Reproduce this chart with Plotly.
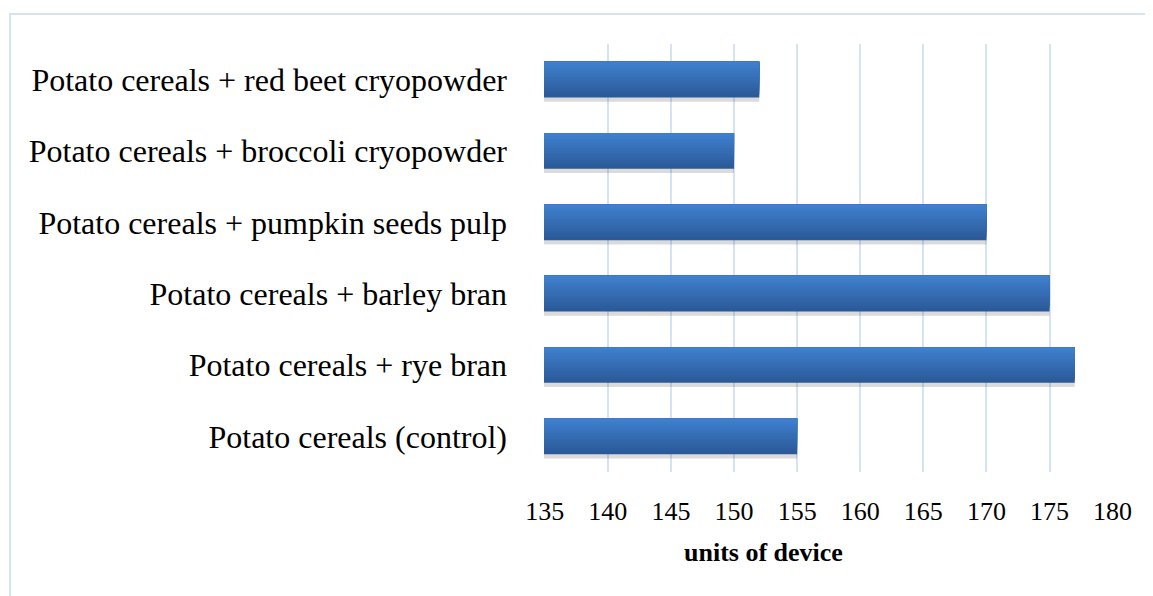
import plotly.graph_objects as go

categories = [
    "Potato cereals (control)",
    "Potato cereals + rye bran",
    "Potato cereals + barley bran",
    "Potato cereals + pumpkin seeds pulp",
    "Potato cereals + broccoli cryopowder",
    "Potato cereals + red beet cryopowder",
]
values = [155, 177, 175, 170, 150, 152]
x_ticks = [135, 140, 145, 150, 155, 160, 165, 170, 175, 180]
x_title = "units of device"

FONT = "Liberation Serif"

fig = go.Figure()

# soft shadow under bars
fig.add_trace(go.Bar(
    y=categories, x=values, orientation="h",
    width=0.5, offset=-0.31,
    marker=dict(color="rgba(0,0,0,0.14)", line=dict(width=0)),
    hoverinfo="skip", showlegend=False,
))

# vertical gradient: stacked, overlapping bands (dark bottom -> light top)
n_bands = 12
c_bot = (0x2B, 0x5A, 0x98)
c_top = (0x3F, 0x7F, 0xCE)
step = 0.5 / n_bands
for i in range(n_bands):
    t = i / (n_bands - 1)
    col = tuple(round(c_bot[k] + (c_top[k] - c_bot[k]) * t) for k in range(3))
    fig.add_trace(go.Bar(
        y=categories, x=values, orientation="h",
        width=0.5 - i * step, offset=-0.25 + i * step,
        marker=dict(color="rgb(%d,%d,%d)" % col, line=dict(width=0)),
        hoverinfo="skip", showlegend=False,
    ))

fig.update_layout(
    width=1145, height=588,
    margin=dict(l=536, r=40, t=36, b=124),
    plot_bgcolor="white", paper_bgcolor="white",
    barmode="overlay",
    font=dict(family=FONT, color="black"),
    xaxis=dict(
        range=[134.94, 180.03], tickvals=x_ticks, ticktext=[str(v) for v in x_ticks],
        showgrid=True, gridcolor="#D6E3F3", gridwidth=2,
        zeroline=False, showline=False, ticks="",
        tickfont=dict(size=26, family=FONT, color="black"),
        ticklabelstandoff=21,
    ),
    yaxis=dict(
        categoryorder="array", categoryarray=categories,
        showgrid=False, zeroline=False, showline=False, ticks="",
        tickfont=dict(size=32, family=FONT, color="black"),
        ticklabelstandoff=36,
    ),
    annotations=[dict(
        text="<b>%s</b>" % x_title, xref="paper", yref="paper",
        x=0.385, y=-0.189, xanchor="center", yanchor="middle",
        showarrow=False, font=dict(size=26, family=FONT, color="black"),
    )],
    shapes=[dict(
        type="rect", xref="paper", yref="paper",
        x0=-0.9385, x1=1.2, y0=-0.5, y1=1.07,
        line=dict(color="#D5E3F3", width=2), fillcolor="rgba(0,0,0,0)",
        layer="below",
    )],
)

fig.write_html("out.html")
